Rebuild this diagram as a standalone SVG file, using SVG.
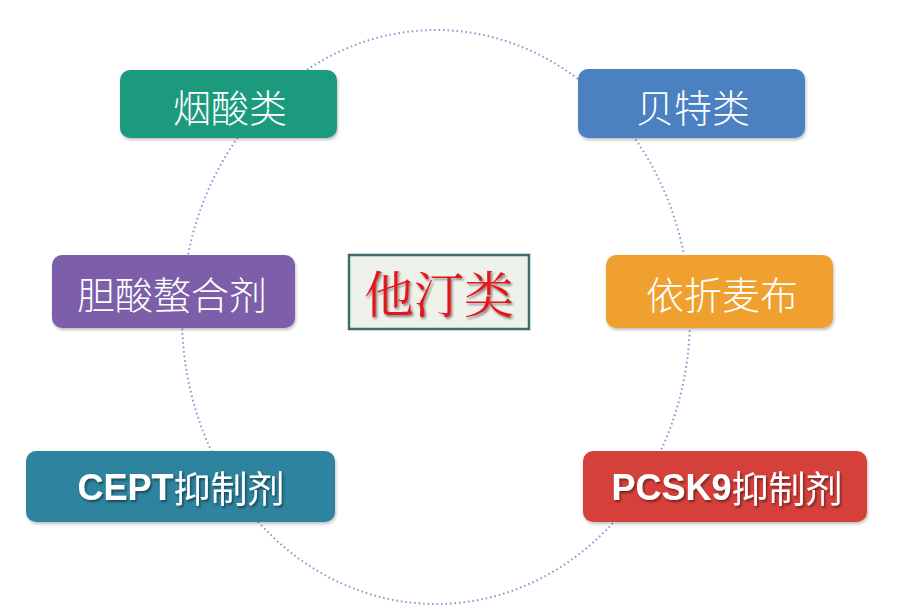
<svg xmlns="http://www.w3.org/2000/svg" width="908" height="615" viewBox="0 0 908 615">
<defs>
<filter id="ts" x="-10%" y="-10%" width="120%" height="130%"><feDropShadow dx="1.5" dy="2" stdDeviation="0.8" flood-color="#000" flood-opacity="0.45"/></filter>
<filter id="bs" x="-5%" y="-5%" width="110%" height="120%"><feDropShadow dx="1" dy="2" stdDeviation="1.5" flood-color="#000" flood-opacity="0.25"/></filter>
</defs>
<style>
.box{filter:url(#bs)}
.t{font-family:"Noto Sans CJK SC","Noto Sans",sans-serif;font-weight:300;fill:#fff;text-anchor:middle;dominant-baseline:central;font-size:38px}
.b{font-family:"Liberation Sans","Noto Sans CJK SC",sans-serif;font-weight:bold;font-size:36px;filter:url(#ts)}
.cj{font-family:"Noto Sans CJK SC",sans-serif;font-weight:normal;font-size:37px}
</style>
<rect width="908" height="615" fill="#fff"/>
<g id="connectors">
<ellipse cx="436" cy="317" rx="254" ry="287" fill="none" stroke="#7a9ccc" stroke-width="2" stroke-dasharray="1.5 3"/>
</g>
<g id="n1"><rect class="box" x="120" y="70" width="217" height="68" rx="10" fill="#1b9a7d"/><text class="t" x="230" y="105">烟酸类</text></g>
<g id="n2"><rect class="box" x="578" y="69" width="227" height="69" rx="10" fill="#4b80c1"/><text class="t" x="693" y="105">贝特类</text></g>
<g id="n3"><rect class="box" x="52" y="255" width="243" height="73" rx="10" fill="#7b5ea8"/><text class="t" x="172" y="292">胆酸螯合剂</text></g>
<g id="n4"><rect class="box" x="606" y="255" width="227" height="73" rx="10" fill="#f0a02e"/><text class="t" x="722" y="292">依折麦布</text></g>
<g id="n5"><rect class="box" x="26" y="451" width="309" height="71" rx="10" fill="#2e839e"/><text class="t b" x="181" y="487">CEPT<tspan class="cj">抑制剂</tspan></text></g>
<g id="n6"><rect class="box" x="583" y="451" width="284" height="71" rx="10" fill="#d5413a"/><text class="t b" x="727" y="487">PCSK9<tspan class="cj">抑制剂</tspan></text></g>
<g id="center"><rect x="349" y="255" width="180" height="74" fill="#eef2ea" stroke="#3e6e6b" stroke-width="2.5"/><text x="439" y="291" text-anchor="middle" dominant-baseline="central" font-family="'Noto Serif CJK SC','Noto Sans CJK SC',serif" font-size="50" fill="#e3181b" filter="url(#ts)">他汀类</text></g>
</svg>
